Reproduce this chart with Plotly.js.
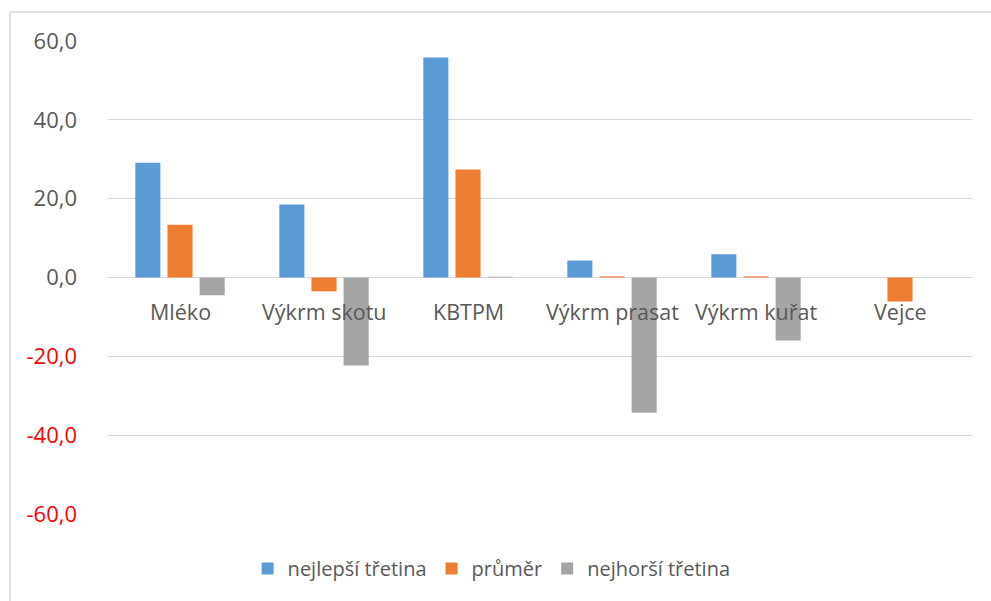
<!DOCTYPE html>
<html>
<head>
<meta charset="utf-8">
<script src="https://cdn.plot.ly/plotly-3.0.1.min.js"></script>
<style>html,body{margin:0;padding:0;background:#fff;}#chart{width:991px;height:601px;}</style>
</head>
<body>
<div id="chart"></div>
<script>
const categories = ["Mléko", "Výkrm skotu", "KBTPM", "Výkrm prasat", "Výkrm kuřat", "Vejce"];
const seriesNames = ["nejlepší třetina", "průměr", "nejhorší třetina"];
const best = [29.1, 18.5, 55.8, 4.3, 5.9, 0];
const avg = [13.4, -3.5, 27.4, 0.3, 0.3, -6.1];
const worst = [-4.5, -22.3, 0.2, -34.3, -16.0, 0];
const tickVals = [60, 40, 20, 0, -20, -40, -60];
const tickLabels = ["60,0", "40,0", "20,0", "0,0", "-20,0", "-40,0", "-60,0"];

const colors = ["#5b9bd5", "#ed7d31", "#a5a5a5"];
const font = "'Open Sans', 'Noto Sans', sans-serif";

const traces = [best, avg, worst].map((vals, i) => ({
  type: "bar",
  name: seriesNames[i],
  x: categories,
  y: vals,
  marker: {color: colors[i]},
  hoverinfo: "none"
}));

const ticktext = tickVals.map((v, i) => v < 0
  ? '<span style="color:#ff0000">' + tickLabels[i] + '</span>'
  : tickLabels[i]);

const annotations = categories.map(c => ({
  x: c, y: 0, xref: "x", yref: "y",
  text: c, showarrow: false,
  yanchor: "top", yshift: -17,
  font: {family: font, size: 21.5, color: "#595959"}
}));

const layout = {
  width: 991, height: 601,
  margin: {l: 108, r: 19, t: 41, b: 87},
  paper_bgcolor: "#ffffff",
  plot_bgcolor: "#ffffff",
  font: {family: font, size: 20, color: "#595959"},
  barmode: "group",
  bargap: 0.33,
  bargroupgap: 0.22,
  showlegend: true,
  legend: {
    orientation: "h",
    x: 0.444, xanchor: "center",
    y: -0.115, yanchor: "middle",
    font: {family: font, size: 20, color: "#595959"},
    itemwidth: 30
  },
  xaxis: {
    showticklabels: false,
    showgrid: false,
    zeroline: false,
    showline: false,
    ticks: ""
  },
  yaxis: {
    range: [-60, 60],
    tickvals: tickVals,
    ticktext: ticktext,
    showgrid: true,
    gridcolor: "#d9d9d9",
    gridwidth: 1.3,
    zeroline: true,
    zerolinecolor: "#d9d9d9",
    zerolinewidth: 1.3,
    showline: false,
    ticks: "",
    ticklabelstandoff: 30,
    tickfont: {family: font, size: 22, color: "#595959"}
  },
  annotations: annotations,
  shapes: [
    {type: "line", xref: "paper", yref: "paper",
     x0: (10 - 108) / 864, x1: (991 - 108) / 864,
     y0: (514 - 12) / 473, y1: (514 - 12) / 473,
     line: {color: "#d9d9d9", width: 1.5}},
    {type: "line", xref: "paper", yref: "paper",
     x0: (10 - 108) / 864, x1: (10 - 108) / 864,
     y0: (514 - 12) / 473, y1: (514 - 601) / 473,
     line: {color: "#d9d9d9", width: 1.5}}
  ]
};

Plotly.newPlot("chart", traces, layout, {displayModeBar: false, staticPlot: true});
</script>
</body>
</html>
